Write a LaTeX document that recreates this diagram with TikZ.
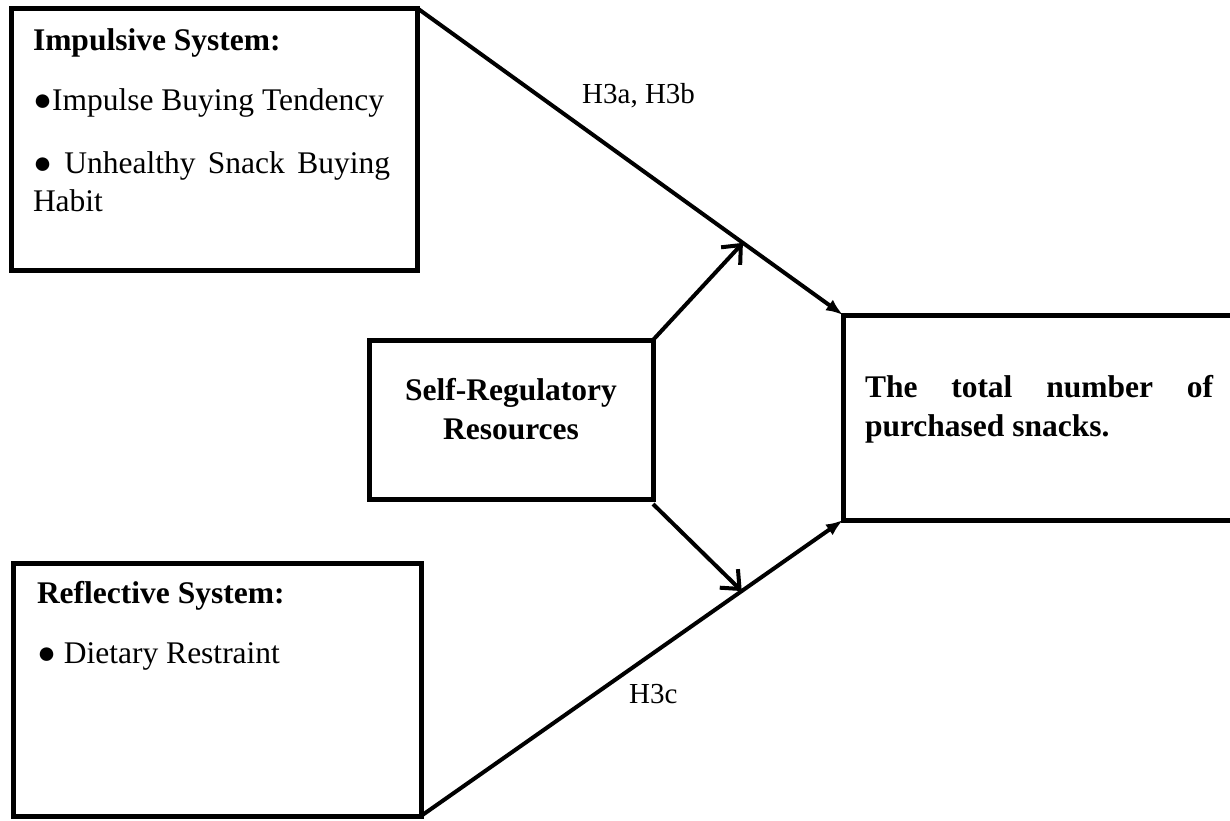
\documentclass[tikz,border=0pt]{standalone}
\usepackage{fontspec}
\setmainfont{Liberation Serif}
\usetikzlibrary{arrows.meta,calc}
\hyphenpenalty=10000
\exhyphenpenalty=10000
\begin{document}
\begin{tikzpicture}[x=1pt,y=-1pt,
  box/.style={draw, line width=5pt, outer sep=0pt, inner sep=0pt, anchor=north west, line join=miter},
  txt/.style={inner sep=0pt, outer sep=0pt, font=\fontsize{31.5}{38}\selectfont},
  hd/.style={inner sep=0pt, outer sep=0pt, font=\fontsize{31.5}{39}\selectfont\bfseries},
  lbl/.style={inner sep=0pt, font=\fontsize{29}{34}\selectfont, anchor=base west},
  link/.style={line width=4pt, -{Latex[length=17pt,width=13pt]}},
  moder/.style={line width=4pt, -{Straight Barb[length=15pt,width=26pt]}}]
\useasboundingbox (0,0) rectangle (1230,820);
\clip (0,0) rectangle (1230,820);

% frames
\node[box, minimum width=406pt, minimum height=262pt] (imp) at (11,8) {};
\node[box, minimum width=408pt, minimum height=253pt] (ref) at (13,563) {};
\node[box, minimum width=284pt, minimum height=159pt] (self) at (369,340) {};
\node[box, minimum width=420pt, minimum height=205pt] (out) at (843,315) {};

% texts inside the frames
\node[hd, anchor=base west] (impT) at (33,50) {Impulsive System:};
\node[txt, anchor=base west] (impA) at (33,110) {●Impulse Buying Tendency};
\node[txt, anchor=base west, text width=357pt, align=justify] (impB) at (33,173) {\hyphenpenalty=10000 ● Unhealthy Snack Buying Habit};

\node[hd, anchor=base west] (refT) at (37,603) {Reflective System:};
\node[txt, anchor=base west] (refA) at (37,663) {● Dietary Restraint};

\node[hd, anchor=base, text width=284pt, align=center] (selfT) at (511,400) {Self-Regulatory\\Resources};

\node[hd, anchor=base west, text width=348pt, align=justify] (outT) at (865,397) {\hyphenpenalty=10000 The total number of purchased snacks.};

% paths to the outcome
\draw[link] (imp.north east) -- (out.north west);
\draw[link] (ref.south east) -- (out.south west);

% moderating arrows
\coordinate (mTop) at ($(imp.north east)!0.765!(out.north west)$);
\coordinate (mBot) at ($(ref.south east)!0.76!(out.south west)$);
\draw[moder] (self.north east) -- (mTop);
\draw[moder] ([yshift=-5pt]self.south east) -- (mBot);

% hypothesis labels
\node[lbl] (h3ab) at (582,103) {H3a, H3b};
\node[lbl] (h3c) at (629,703) {H3c};
\end{tikzpicture}
\end{document}
